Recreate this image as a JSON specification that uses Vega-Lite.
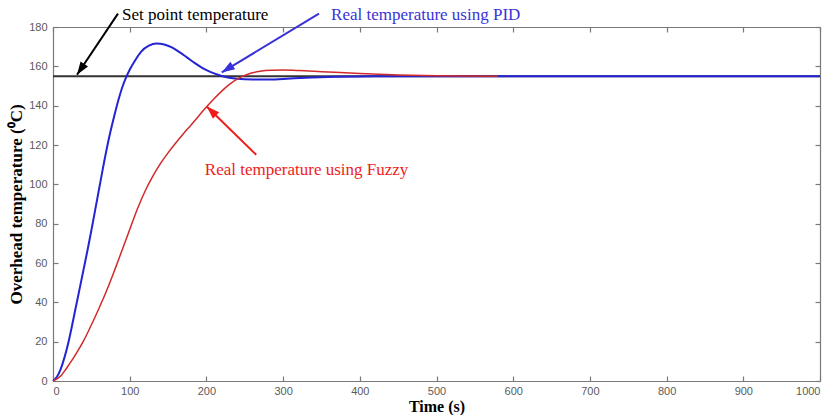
{
  "$schema": "https://vega.github.io/schema/vega-lite/v6.json",
  "width": 767,
  "height": 354,
  "autosize": {"type": "none"},
  "padding": {"left": 53, "top": 27, "right": 8, "bottom": 34},
  "background": "white",
  "config": {
    "view": {"stroke": null},
    "axis": {
      "domainColor": "#7a7a7a",
      "domainWidth": 1.2,
      "tickColor": "#7a7a7a",
      "tickWidth": 1.2,
      "tickSize": -5,
      "grid": false,
      "labelFont": "Liberation Sans",
      "labelFontSize": 11,
      "labelColor": "#5a5a5a",
      "titleFont": "Liberation Serif",
      "titleFontSize": 17,
      "titleFontWeight": "bold",
      "titleColor": "#000000"
    }
  },
  "datasets": {
    "setpoint": [
      {"time": 0, "temp": 155},
      {"time": 1000, "temp": 155}
    ],
    "pid": [
      {"time": 0, "temp": 0}, {"time": 5, "temp": 2}, {"time": 10, "temp": 6},
      {"time": 15, "temp": 12}, {"time": 20, "temp": 19.5}, {"time": 25, "temp": 28.5},
      {"time": 30, "temp": 38}, {"time": 35, "temp": 47.5}, {"time": 40, "temp": 57},
      {"time": 45, "temp": 66.5}, {"time": 50, "temp": 76.5}, {"time": 55, "temp": 87},
      {"time": 60, "temp": 97.5}, {"time": 65, "temp": 108}, {"time": 70, "temp": 118},
      {"time": 75, "temp": 127}, {"time": 80, "temp": 135}, {"time": 85, "temp": 142.5},
      {"time": 90, "temp": 149}, {"time": 96, "temp": 155}, {"time": 100, "temp": 158.3},
      {"time": 107, "temp": 163}, {"time": 115, "temp": 167.5}, {"time": 125, "temp": 170.5},
      {"time": 135, "temp": 171.6}, {"time": 145, "temp": 171.1}, {"time": 155, "temp": 169.6},
      {"time": 165, "temp": 167.2}, {"time": 175, "temp": 164.4}, {"time": 185, "temp": 161.6},
      {"time": 195, "temp": 159.1}, {"time": 205, "temp": 157.2}, {"time": 215, "temp": 155.7},
      {"time": 225, "temp": 154.6}, {"time": 240, "temp": 153.7}, {"time": 260, "temp": 153.3},
      {"time": 280, "temp": 153.3}, {"time": 300, "temp": 153.6}, {"time": 330, "temp": 154.2},
      {"time": 370, "temp": 154.7}, {"time": 420, "temp": 155}, {"time": 500, "temp": 155},
      {"time": 1000, "temp": 155}
    ],
    "fuzzy": [
      {"time": 0, "temp": 0}, {"time": 10, "temp": 2.5}, {"time": 15, "temp": 5},
      {"time": 20, "temp": 7.8}, {"time": 30, "temp": 13.8}, {"time": 40, "temp": 20.5},
      {"time": 50, "temp": 28.5}, {"time": 60, "temp": 37}, {"time": 70, "temp": 46},
      {"time": 80, "temp": 56}, {"time": 90, "temp": 66.5}, {"time": 100, "temp": 77},
      {"time": 110, "temp": 87.5}, {"time": 120, "temp": 96.5}, {"time": 130, "temp": 104},
      {"time": 140, "temp": 110.5}, {"time": 150, "temp": 116}, {"time": 160, "temp": 121},
      {"time": 170, "temp": 125.7}, {"time": 180, "temp": 130.2}, {"time": 190, "temp": 134.8},
      {"time": 200, "temp": 139.3}, {"time": 210, "temp": 143.5}, {"time": 220, "temp": 147.4},
      {"time": 230, "temp": 150.8}, {"time": 240, "temp": 153.5}, {"time": 250, "temp": 155.4},
      {"time": 260, "temp": 156.7}, {"time": 270, "temp": 157.5}, {"time": 285, "temp": 158},
      {"time": 300, "temp": 158.1}, {"time": 320, "temp": 157.9}, {"time": 350, "temp": 157.3},
      {"time": 400, "temp": 156.3}, {"time": 450, "temp": 155.6}, {"time": 500, "temp": 155.2},
      {"time": 580, "temp": 155}
    ],
    "notes": [
      {"kind": "setpoint", "label": "Set point temperature", "tx": 90, "ty": 186.3, "x0": 84.7, "y0": 186.8, "x1": 31.3, "y1": 155.7},
      {"kind": "pid", "label": "Real temperature using PID", "tx": 362.5, "ty": 186.3, "x0": 346.8, "y0": 186.8, "x1": 220, "y1": 156.9},
      {"kind": "fuzzy", "label": "Real temperature using Fuzzy", "tx": 198, "ty": 107.3, "x0": 265, "y0": 115, "x1": 200.4, "y1": 139.6}
    ]
  },
  "layer": [
    {
      "data": {"name": "setpoint"},
      "mark": {"type": "line", "color": "#333333", "strokeWidth": 2},
      "encoding": {
        "x": {"field": "time", "type": "quantitative",
              "scale": {"domain": [0, 1000], "nice": false},
              "axis": {"orient": "bottom", "values": [0,100,200,300,400,500,600,700,800,900,1000],
                       "format": "d", "labelPadding": 9, "labelFlush": true,
                       "title": "Time (s)", "titleFontSize": 16, "titlePadding": 2}},
        "y": {"field": "temp", "type": "quantitative",
              "scale": {"domain": [0, 180], "nice": false},
              "axis": {"orient": "left", "values": [0,20,40,60,80,100,120,140,160,180],
                       "labelPadding": 11, "title": "Overhead temperature (⁰C)", "titlePadding": 3}}
      }
    },
    {
      "data": {"name": "pid"},
      "mark": {"type": "line", "color": "#2424d4", "strokeWidth": 2, "interpolate": "monotone"},
      "encoding": {
        "x": {"field": "time", "type": "quantitative",
              "axis": {"orient": "top", "values": [0,100,200,300,400,500,600,700,800,900,1000],
                       "labels": false, "title": null}},
        "y": {"field": "temp", "type": "quantitative",
              "axis": {"orient": "right", "values": [0,20,40,60,80,100,120,140,160,180],
                       "labels": false, "title": null}}
      }
    },
    {
      "data": {"name": "fuzzy"},
      "mark": {"type": "line", "color": "#d22a2a", "strokeWidth": 1.5, "interpolate": "monotone"},
      "encoding": {
        "x": {"field": "time", "type": "quantitative", "axis": null},
        "y": {"field": "temp", "type": "quantitative", "axis": null}
      }
    },
    {
      "data": {"name": "notes"},
      "mark": {"type": "rule", "strokeWidth": 2},
      "encoding": {
        "x": {"field": "x0", "type": "quantitative", "axis": null},
        "y": {"field": "y0", "type": "quantitative", "axis": null},
        "x2": {"field": "x1"},
        "y2": {"field": "y1"},
        "color": {"field": "kind", "type": "nominal", "legend": null,
                  "scale": {"domain": ["setpoint", "pid", "fuzzy"], "range": ["#000000", "#3a32d8", "#f01c1c"]}}
      }
    },
    {
      "data": {"name": "notes"},
      "transform": [{"filter": "datum.kind === 'setpoint'"}],
      "mark": {"type": "point", "shape": "M0,0L-4.5,13L4.5,13Z", "size": 4, "filled": true, "opacity": 1, "angle": 214, "color": "#000000"},
      "encoding": {
        "x": {"field": "x1", "type": "quantitative", "axis": null},
        "y": {"field": "y1", "type": "quantitative", "axis": null}
      }
    },
    {
      "data": {"name": "notes"},
      "transform": [{"filter": "datum.kind === 'pid'"}],
      "mark": {"type": "point", "shape": "M0,0L-4.5,13L4.5,13Z", "size": 4, "filled": true, "opacity": 1, "angle": 238, "color": "#3a32d8"},
      "encoding": {
        "x": {"field": "x1", "type": "quantitative", "axis": null},
        "y": {"field": "y1", "type": "quantitative", "axis": null}
      }
    },
    {
      "data": {"name": "notes"},
      "transform": [{"filter": "datum.kind === 'fuzzy'"}],
      "mark": {"type": "point", "shape": "M0,0L-4.5,13L4.5,13Z", "size": 4, "filled": true, "opacity": 1, "angle": 314, "color": "#f01c1c"},
      "encoding": {
        "x": {"field": "x1", "type": "quantitative", "axis": null},
        "y": {"field": "y1", "type": "quantitative", "axis": null}
      }
    },
    {
      "data": {"name": "notes"},
      "mark": {"type": "text", "align": "left", "baseline": "middle", "font": "Liberation Serif", "fontSize": 17},
      "encoding": {
        "x": {"field": "tx", "type": "quantitative", "axis": null},
        "y": {"field": "ty", "type": "quantitative", "axis": null},
        "text": {"field": "label"},
        "color": {"field": "kind", "type": "nominal", "legend": null,
                  "scale": {"domain": ["setpoint", "pid", "fuzzy"], "range": ["#000000", "#3a32d8", "#f01c1c"]}}
      }
    }
  ],
  "resolve": {"axis": {"x": "independent", "y": "independent"}}
}
